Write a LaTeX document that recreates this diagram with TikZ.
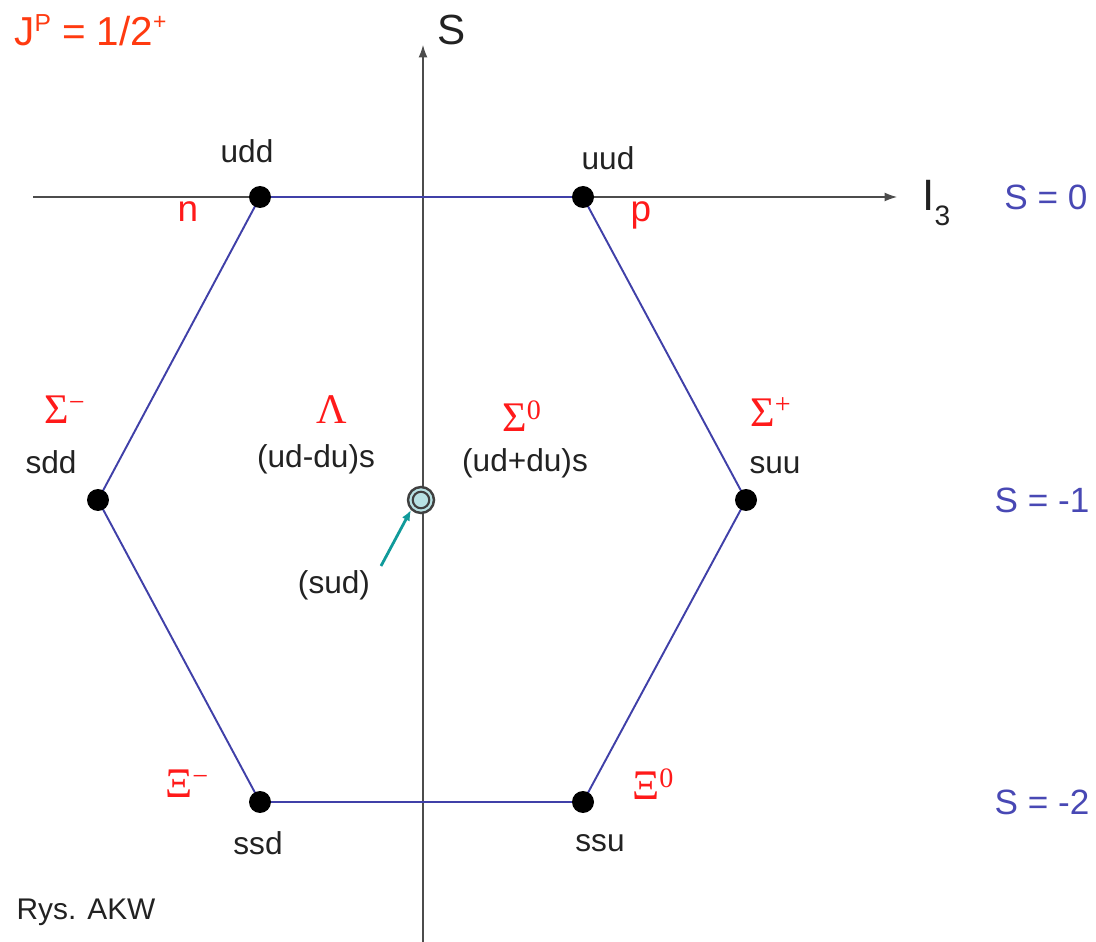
\documentclass[tikz,border=0pt]{standalone}
\usepackage{fontspec}
\setmainfont{Liberation Sans}
\newfontfamily\grk{Liberation Serif}
\usetikzlibrary{arrows.meta}
\definecolor{hexblue}{HTML}{4040A8}
\definecolor{lblblue}{HTML}{4848B4}
\definecolor{lblred}{HTML}{FF1A1A}
\definecolor{jpred}{HTML}{FF3A10}
\definecolor{txtgray}{HTML}{222222}
\definecolor{teal2}{HTML}{109A9A}
\definecolor{cyanfill}{HTML}{B8E2E4}
\newcommand{\grsup}[1]{\raisebox{0.3em}{\fontsize{16}{16}\selectfont #1}}
\begin{document}
\begin{tikzpicture}[x=0.02cm,y=-0.02cm,
  quark/.style={font=\fontsize{18}{20}\selectfont,text=txtgray,inner sep=0pt},
  greek/.style={font=\grk\fontsize{24}{26}\selectfont,text=lblred,inner sep=0pt,anchor=west},
  nuc/.style={font=\fontsize{21}{24}\selectfont,text=lblred,inner sep=0pt},
  slab/.style={font=\fontsize{20}{22}\selectfont,text=lblblue,inner sep=0pt},
  dot/.style={circle,fill=black,inner sep=0pt,minimum size=0.44cm},
  axis/.style={draw=black!70,line width=0.6pt},
  hex/.style={draw=hexblue,line width=1.1pt}]
\useasboundingbox (0,0) rectangle (1096,942);
% axes
\coordinate (vb) at (423,942);
\coordinate (vt) at (423,45);
\coordinate (hl) at (33,197);
\coordinate (hr) at (897,197);
\draw[axis,-{Latex[length=7pt,width=5pt]}] (vb) -- (vt);
\draw[axis,-{Latex[length=7pt,width=5pt]}] (hl) -- (hr);
% hexagon corners
\coordinate (udd) at (260,197);
\coordinate (uud) at (583,197);
\coordinate (suu) at (746,500);
\coordinate (ssu) at (583,802);
\coordinate (ssd) at (260,802);
\coordinate (sdd) at (98,500);
\draw[hex] (udd) -- (uud) -- (suu) -- (ssu) -- (ssd) -- (sdd) -- cycle;
\foreach \p in {udd,uud,suu,ssu,ssd,sdd} \node[dot] at (\p) {};
% centre
\node[circle,draw=black!75,fill=cyanfill,line width=1.4pt,minimum size=0.52cm,inner sep=0pt] (ctr) at (421,500) {};
\node[circle,draw=black!75,line width=1.2pt,minimum size=0.33cm,inner sep=0pt] at (ctr) {};
% labels
\node[font=\fontsize{23}{25}\selectfont,text=jpred,inner sep=0pt,anchor=west] (jp) at (14,30) {J\raisebox{0.35em}{\fontsize{14}{14}\selectfont P} = 1/2\raisebox{0.4em}{\fontsize{13}{13}\selectfont +}};
\node[font=\fontsize{24}{26}\selectfont,text=txtgray,inner sep=0pt] (slbl) at (452,30) {S};
\node[font=\fontsize{25}{27}\selectfont,text=txtgray,inner sep=0pt,anchor=west] (ilbl) at (922,203) {I\raisebox{-0.35em}{\fontsize{16}{18}\selectfont 3}};
\node[slab] (s0) at (1046,197) {S = 0};
\node[slab] (s1) at (1042,500) {S = -1};
\node[slab] (s2) at (1042,802) {S = -2};
\node[quark] (tudd) at (247,151) {udd};
\node[quark] (tuud) at (608,158) {uud};
\node[nuc] (tn) at (188,212) {n};
\node[nuc] (tp) at (641,215) {p};
\node[greek] (tsm) at (44,410) {Σ\grsup{−}};
\node[quark] (tsdd) at (51,462) {sdd};
\node[font=\grk\fontsize{24}{26}\selectfont,text=lblred,inner sep=0pt] (tlam) at (332,410) {Λ};
\node[quark] (tuddu) at (316,459) {(ud-du)s};
\node[greek] (ts0) at (502,416) {Σ\grsup{0}};
\node[quark] (tudpdu) at (525,463) {(ud+du)s};
\node[greek] (tsp) at (750,412) {Σ\grsup{+}};
\node[quark] (tsuu) at (775,465) {suu};
\node[greek] (txm) at (165,784) {Ξ\grsup{−}};
\node[quark] (tssd) at (258,843) {ssd};
\node[greek] (tx0) at (632,784) {Ξ\grsup{0}};
\node[quark] (tssu) at (600,843) {ssu};
\node[quark] (tsud) at (334,585) {(sud)};
\node[font=\fontsize{17}{19}\selectfont,text=txtgray,inner sep=0pt] (rys) at (86,912) {Rys. AKW};
% arrow to centre
\coordinate (atail) at (381,566);
\draw[teal2,line width=1.6pt,-{Latex[length=6pt,width=5pt]}] (atail) -- (ctr.south west);
\end{tikzpicture}
\end{document}
